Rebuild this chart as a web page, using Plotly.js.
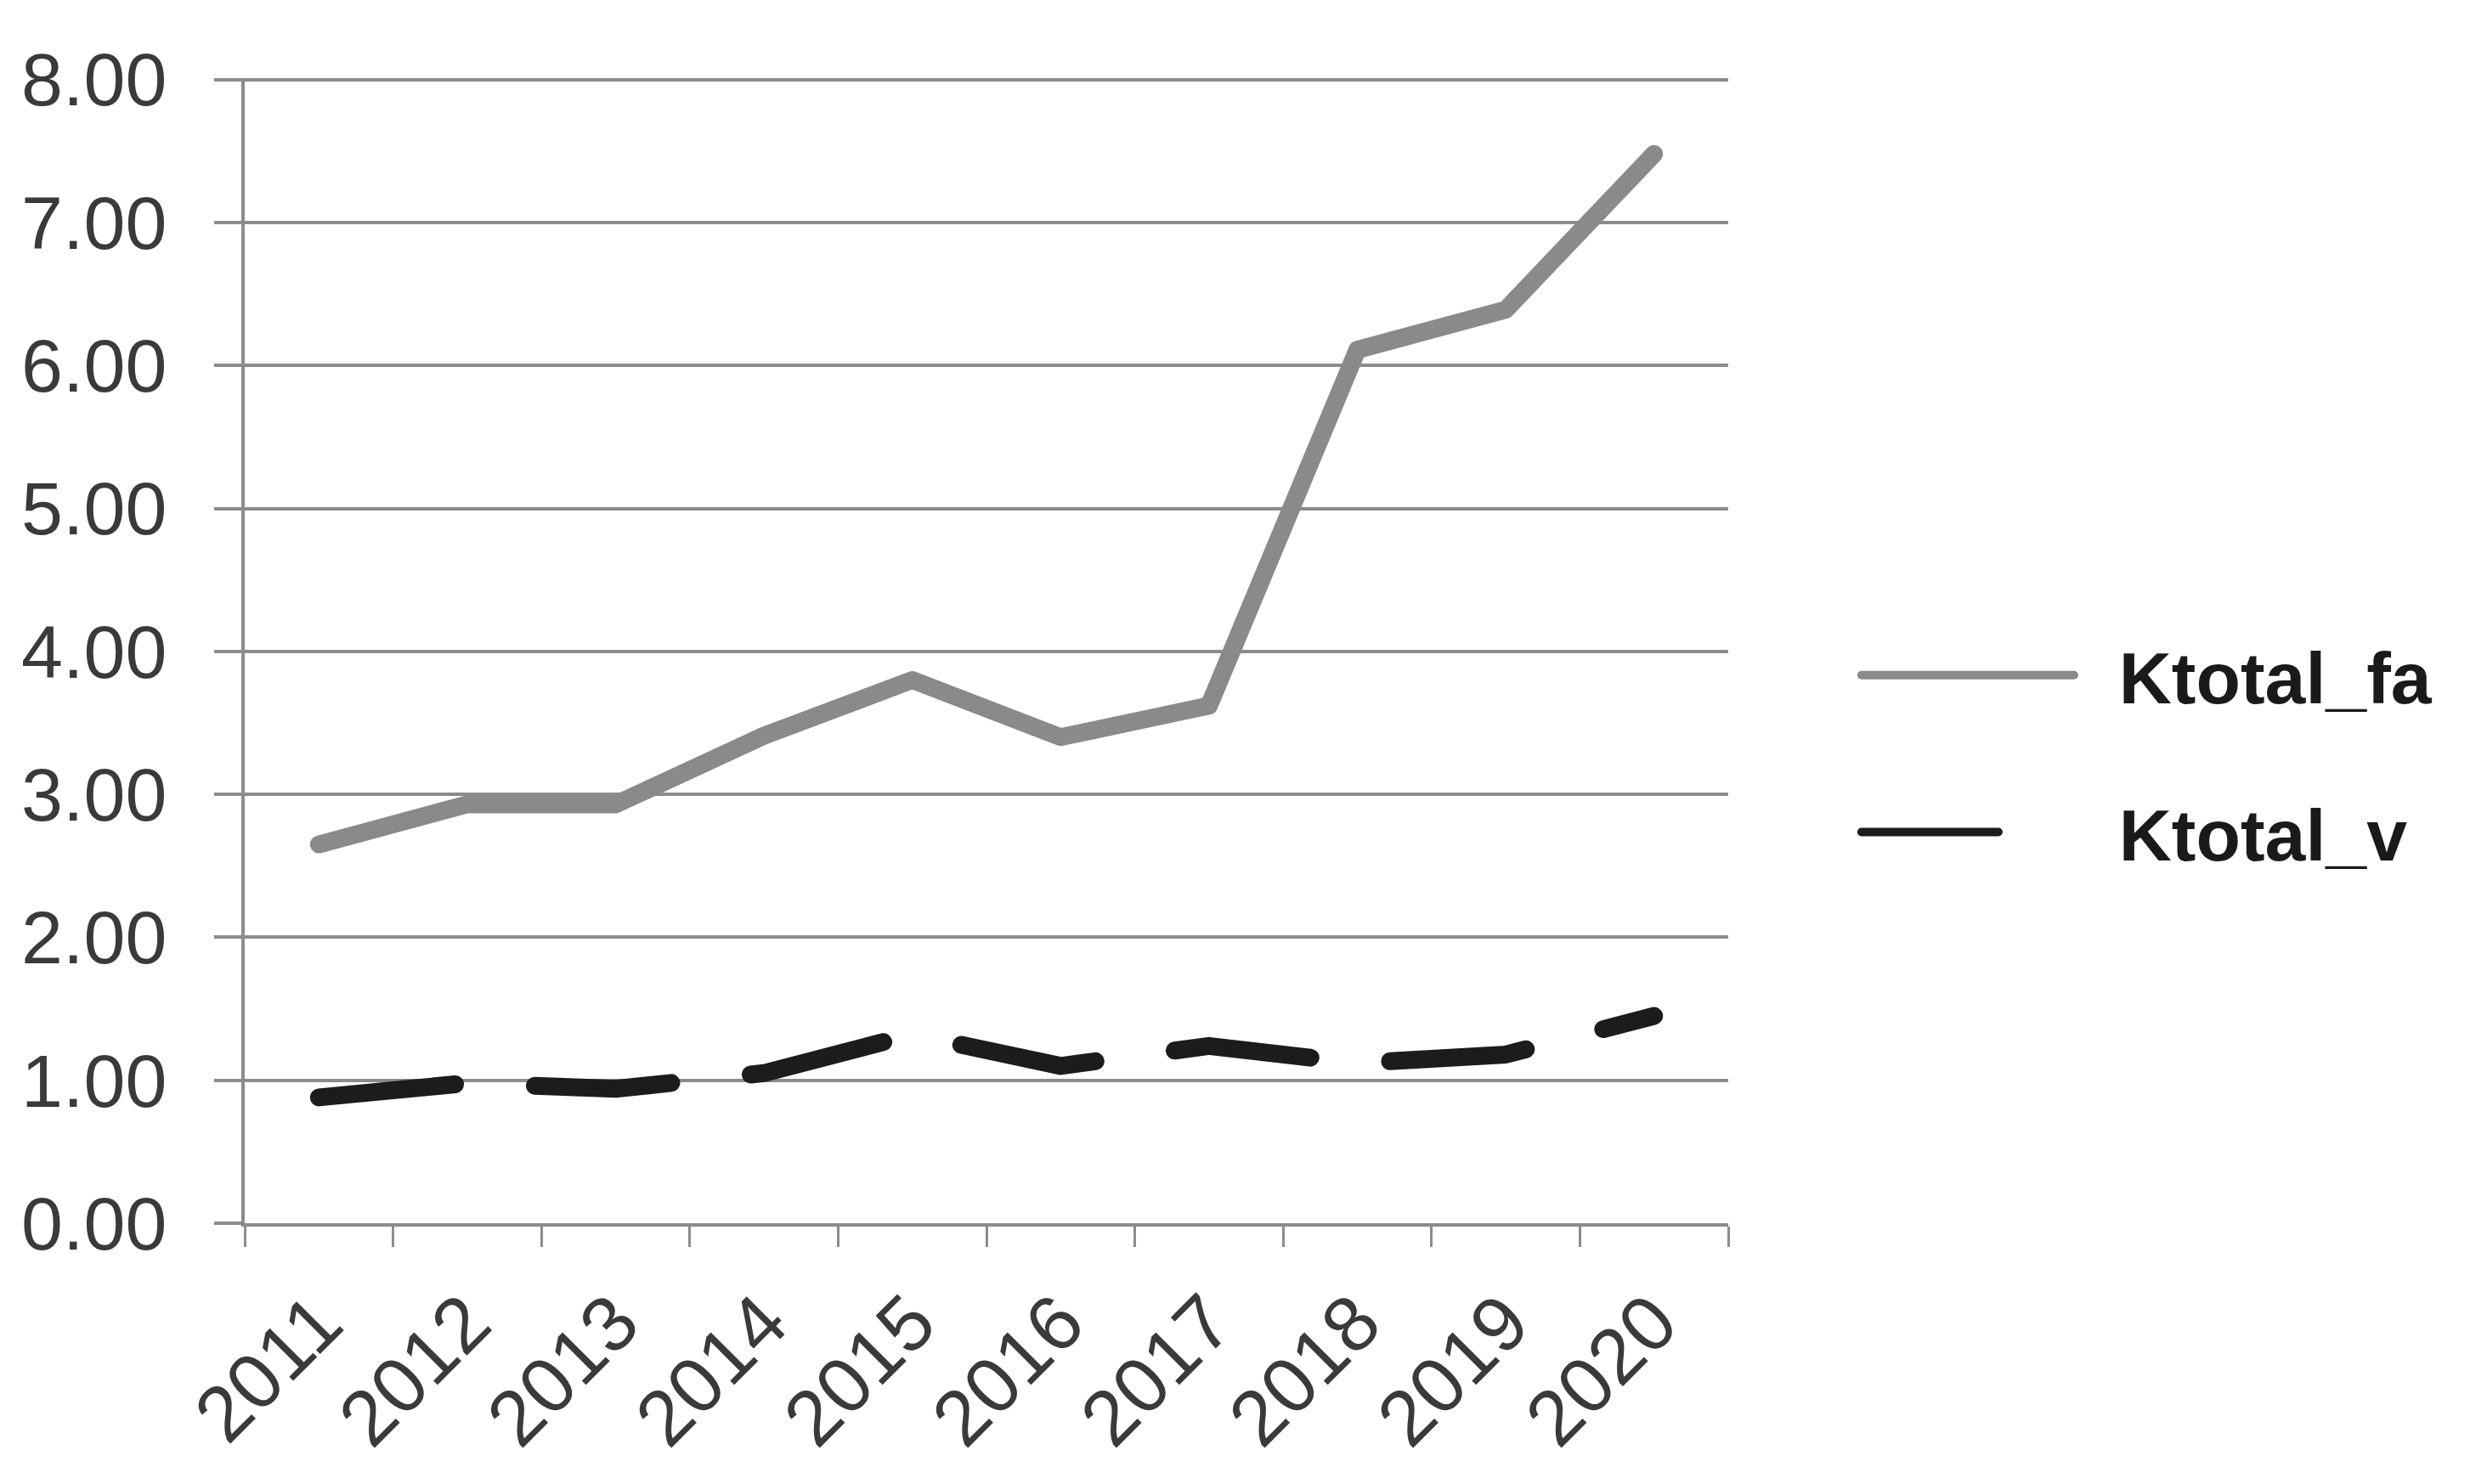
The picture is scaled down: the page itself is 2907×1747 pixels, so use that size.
<!DOCTYPE html>
<html>
<head>
<meta charset="utf-8">
<script src="https://cdn.plot.ly/plotly-3.0.1.min.js"></script>
<style>
  html, body { margin: 0; padding: 0; background: #fff; }
  #chart { width: 2907px; height: 1747px; }
  /* rounded dash ends like the original */
  #chart path.js-line { stroke-linecap: round; stroke-linejoin: round; }
</style>
</head>
<body>
<div id="chart"></div>
<script>
var years = ['2011', '2012', '2013', '2014', '2015', '2016', '2017', '2018', '2019', '2020'];
var ktotal_fa = [2.65, 2.93, 2.93, 3.41, 3.80, 3.40, 3.62, 6.11, 6.39, 7.48];
var ktotal_v = [0.88, 0.98, 0.94, 1.05, 1.32, 1.10, 1.24, 1.12, 1.18, 1.45];

var fa = {
	type: 'scatter',
	x: years,
	y: ktotal_fa,
	mode: 'lines',
	name: '\u00a0\u00a0Ktotal_fa',
	legendgroup: 'fa',
	line: { color: '#8a8a8a', width: 21 }
};

var v = {
	type: 'scatter',
	x: years,
	y: ktotal_v,
	mode: 'lines',
	name: '\u00a0\u00a0Ktotal_v',
	legendgroup: 'v',
	line: { color: '#1c1c1c', width: 21, dash: '161px,94px' }
};

var gridColor = '#8c8c8c';

var layout = {
	width: 2907,
	height: 1747,
	paper_bgcolor: '#ffffff',
	plot_bgcolor: '#ffffff',
	margin: { l: 288, r: 873, t: 92, b: 307 },
	font: { family: 'Liberation Sans, Arial, sans-serif', color: '#3a3a3a' },
	showlegend: true,
	legend: {
		x: 1.087,
		xanchor: 'left',
		y: 0.41,
		yanchor: 'middle',
		font: { size: 86, color: '#1a1a1a', family: 'Liberation Sans, Arial, sans-serif', weight: 'bold' },
		itemwidth: 250,
		tracegroupgap: 70,
		bgcolor: 'rgba(0,0,0,0)'
	},
	xaxis: {
		type: 'category',
		range: [-0.5, 9.5],
		showgrid: false,
		showline: true,
		linecolor: gridColor,
		linewidth: 4,
		ticks: 'outside',
		tickson: 'boundaries',
		ticklen: 24,
		tickwidth: 3,
		tickcolor: gridColor,
		tickangle: -45,
		ticklabelstandoff: 22,
		tickfont: { size: 92, color: '#3a3a3a' },
		fixedrange: true
	},
	yaxis: {
		range: [0, 8.01],
		dtick: 1,
		tickformat: '.2f',
		showgrid: true,
		gridcolor: gridColor,
		gridwidth: 4,
		zeroline: false,
		showline: true,
		linecolor: gridColor,
		linewidth: 4,
		ticks: 'outside',
		ticklen: 32,
		tickwidth: 4,
		tickcolor: gridColor,
		ticklabelstandoff: 38,
		tickfont: { size: 88, color: '#3a3a3a' },
		fixedrange: true
	}
};

Plotly.newPlot('chart', [fa, v], layout, { displayModeBar: false, staticPlot: true });
</script>
</body>
</html>
